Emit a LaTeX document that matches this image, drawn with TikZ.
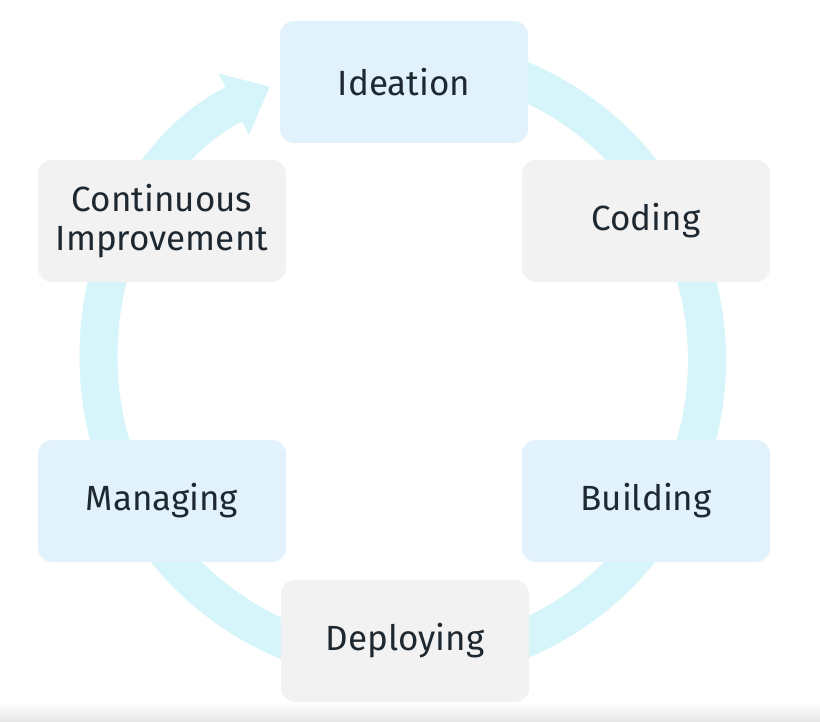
\documentclass[tikz,border=0pt]{standalone}
\usepackage{fontspec}
\setmainfont{Fira Sans}
\usetikzlibrary{arrows.meta}
\definecolor{ringcol}{HTML}{D5F5FA}
\definecolor{bluebox}{HTML}{E1F2FC}
\definecolor{graybox}{HTML}{F2F2F3}
\definecolor{txt}{HTML}{1E2830}
\tikzset{
  stagebox/.style={rounded corners=14pt, minimum width=248pt, minimum height=122pt,
    text=txt, font=\fontsize{35}{39}\selectfont, align=center, inner sep=0pt},
  bluestage/.style={stagebox, fill=bluebox},
  graystage/.style={stagebox, fill=graybox},
  ring/.style={draw=ringcol, line width=38pt,
    -{Triangle[width=66pt,length=40pt]}}
}
\begin{document}
\begin{tikzpicture}[x=1pt,y=1pt]
\useasboundingbox (0,0) rectangle (820,722);
\fill[white] (0,0) rectangle (820,722);
\shade[top color=white, bottom color=black!10] (0,0) rectangle (820,20);
\coordinate (c) at (403,362);
% ring
\draw[ring] ([shift={(110:304pt)}]c) arc[start angle=110, end angle=-244, radius=304pt];
% stages
\node[bluestage] (ideation) at (404,640) {Ideation};
\node[graystage] (coding) at (646,501) {Coding};
\node[bluestage] (building) at (646,221) {Building};
\node[graystage] (deploying) at (405,81) {Deploying};
\node[bluestage] (managing) at (162,221) {Managing};
\node[graystage] (improve) at (162,501) {Continuous\\Improvement};
\end{tikzpicture}
\end{document}
